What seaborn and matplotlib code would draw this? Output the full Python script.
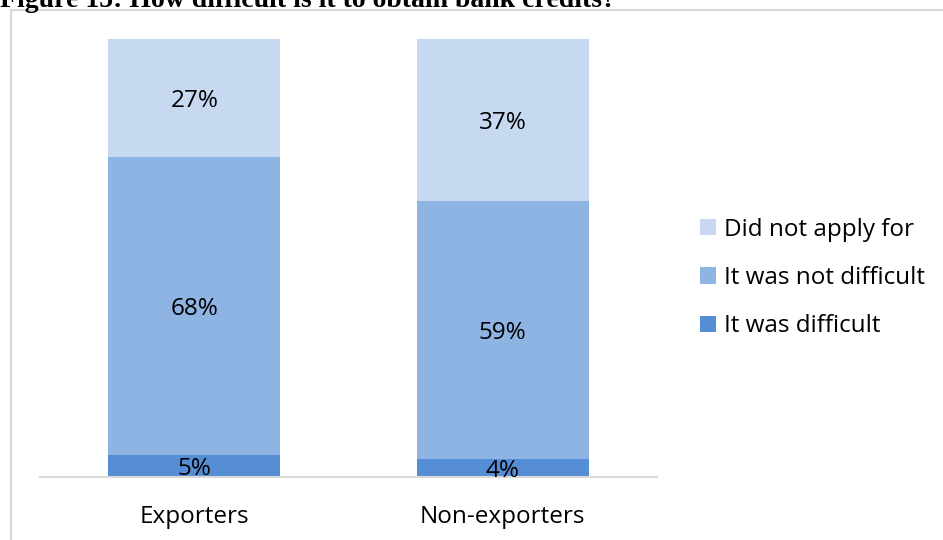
import matplotlib
matplotlib.use("Agg")
import matplotlib.pyplot as plt
import matplotlib.transforms as mtransforms
import seaborn as sns
import pandas as pd
from matplotlib.patches import Patch, Rectangle

categories = ["Exporters", "Non-exporters"]
difficult = [5, 4]
not_difficult = [68, 59]
not_applied = [27, 37]
series_names = ["Did not apply for", "It was not difficult", "It was difficult"]
title = "Figure 15: How difficult is it to obtain bank credits?"

c_light = "#C6D9F1"
c_mid = "#8EB4E3"
c_dark = "#558ED5"

sns.set_theme(style="white")
plt.rcParams['font.family'] = ['Open Sans', 'DejaVu Sans']
plt.rcParams['text.color'] = 'black'

W, H = 943, 540
fig = plt.figure(figsize=(W / 100, H / 100), dpi=100)
ax = fig.add_axes([40 / W, (H - 477) / H, 617 / W, (477 - 39) / H])

df = pd.DataFrame({
    "cat": categories,
    "d": difficult,
    "nd": not_difficult,
    "na": not_applied,
})
df["c2"] = df["d"] + df["nd"]
df["c3"] = df["c2"] + df["na"]

bw = 0.557
sns.barplot(data=df, x="cat", y="c3", color=c_light, width=bw, ax=ax, saturation=1, linewidth=0)
sns.barplot(data=df, x="cat", y="c2", color=c_mid, width=bw, ax=ax, saturation=1, linewidth=0)
sns.barplot(data=df, x="cat", y="d", color=c_dark, width=bw, ax=ax, saturation=1, linewidth=0)

fs = 17.5
tr = ax.transData + mtransforms.ScaledTranslation(0, -3 / 100, fig.dpi_scale_trans)
for i, row in df.iterrows():
    ax.text(i, row["d"] / 2, f"{row['d']}%", ha="center", va="center", fontsize=fs, color="black", transform=tr)
    ax.text(i, row["d"] + row["nd"] / 2, f"{row['nd']}%", ha="center", va="center", fontsize=fs, color="black", transform=tr)
    ax.text(i, row["c2"] + row["na"] / 2, f"{row['na']}%", ha="center", va="center", fontsize=fs, color="black", transform=tr)

ax.set_xlim(-0.5, 1.5)
ax.set_ylim(0, 100)
ax.set_xlabel("")
ax.set_ylabel("")
ax.set_yticks([])
for s in ["top", "right", "left"]:
    ax.spines[s].set_visible(False)
ax.spines["bottom"].set_color("#D9D9D9")
ax.spines["bottom"].set_linewidth(1.5)
ax.tick_params(axis="x", length=0, pad=20, labelsize=fs, labelcolor="black")

handles = [Patch(facecolor=c_light, edgecolor="none"),
           Patch(facecolor=c_mid, edgecolor="none"),
           Patch(facecolor=c_dark, edgecolor="none")]
leg = fig.legend(handles, series_names, loc="center left",
                 bbox_to_anchor=(690 / W, (H - 278) / H), frameon=False,
                 fontsize=fs, handlelength=0.65, handleheight=0.65,
                 handletextpad=0.35, labelspacing=1.0, borderaxespad=0)
for t in leg.get_texts():
    t.set_color("black")

# frame border
fig.add_artist(Rectangle((11 / W, -0.05), 1.2, 1.05 - 10.5 / H, transform=fig.transFigure,
                         fill=False, edgecolor="#D9D9D9", linewidth=1.5))

fig.text(0, 1 - 7 / H, title, ha="left", va="baseline", fontsize=20,
         fontweight="bold", family=["Liberation Serif", "DejaVu Serif"], color="black")

fig.savefig("out.png", dpi=100)
